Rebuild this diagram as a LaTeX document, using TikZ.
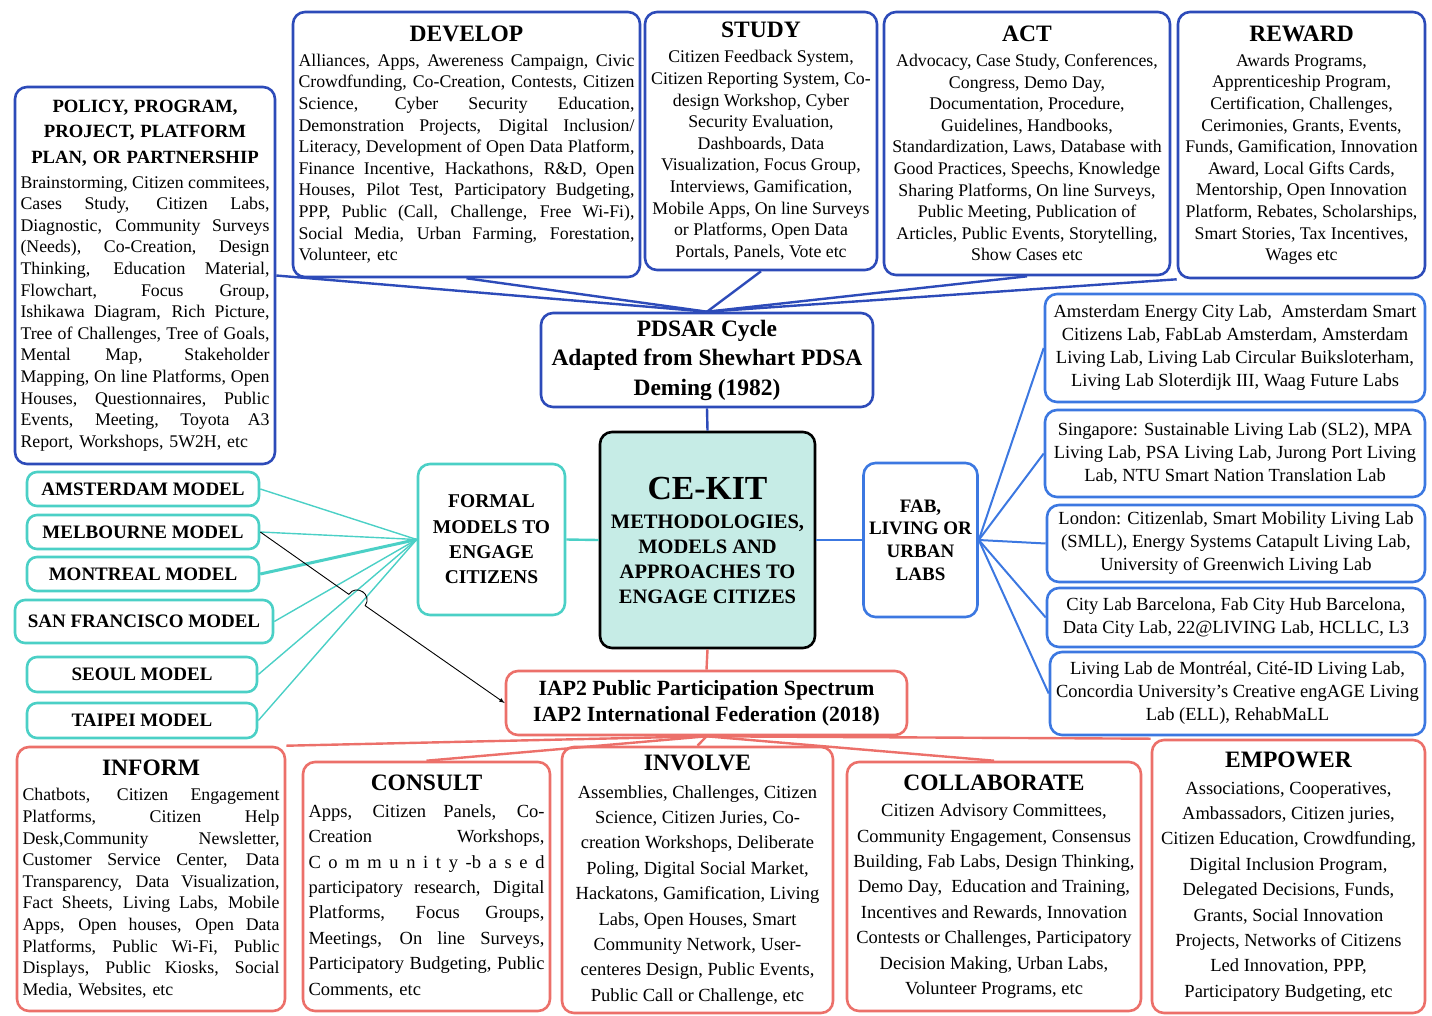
\documentclass[tikz,border=0pt]{standalone}
\usepackage{fontspec}
\setmainfont{Liberation Serif}
\usetikzlibrary{arrows,positioning}

\definecolor{deepblue}{RGB}{45,75,185}
\definecolor{labblue}{RGB}{60,120,225}
\definecolor{cyanline}{RGB}{75,208,198}
\definecolor{iapred}{RGB}{236,112,106}
\definecolor{kitfill}{RGB}{198,236,230}

% title font and justified lines
\newcommand\headfont{\fontsize{23.5}{26}\selectfont\bfseries}
\newlength\jw
\newcommand\jl[1]{\leavevmode\hbox to\jw{\spaceskip=.25em plus 1fil\relax #1}}
\newcommand\jlast[1]{\leavevmode\hbox to\jw{#1\hfil}}

\begin{document}
\begin{tikzpicture}[x=1pt,y=-1pt,
	card/.style={draw,rounded corners=12pt,line width=2.6pt,fill=white,align=center,inner xsep=5.5pt,inner ysep=2pt},
	plan/.style={card,draw=deepblue,font=\fontsize{17.8}{21.6}\selectfont},
	lab/.style={card,draw=labblue,font=\fontsize{18.5}{23}\selectfont},
	model/.style={card,draw=cyanline,rounded corners=10pt,font=\fontsize{19}{22}\selectfont\bfseries},
	level/.style={card,draw=iapred,font=\fontsize{18.5}{25.4}\selectfont},
	link/.style={line width=2.4pt}]
\useasboundingbox (0,0) rectangle (1432,1015);

% PDSAR side
\node[plan,text width=249pt,minimum height=377pt] (policy) at (145,275.5) {\setlength\jw{249pt}{\fontsize{18.7}{25.5}\selectfont\bfseries POLICY, PROGRAM,}\\[3.9pt]{\fontsize{18.7}{25.5}\selectfont\bfseries PROJECT, PLATFORM}\\[3.9pt]{\fontsize{18.7}{25.5}\selectfont\bfseries PLAN, OR PARTNERSHIP}\\[3.4pt]
\jl{Brainstorming, Citizen commitees,}\\ \jl{Cases Study, Citizen Labs,}\\ \jl{Diagnostic, Community Surveys}\\ \jl{(Needs), Co-Creation, Design}\\ \jl{Thinking, Education Material,}\\ \jl{Flowchart, Focus Group,}\\ \jl{Ishikawa Diagram, Rich Picture,}\\ \jl{Tree of Challenges, Tree of Goals,}\\ \jl{Mental Map, Stakeholder}\\ \jl{Mapping, On line Platforms, Open}\\ \jl{Houses, Questionnaires, Public}\\ \jl{Events, Meeting, Toyota A3}\\ \jlast{Report, Workshops, 5W2H, etc}};
\node[plan,text width=336pt,minimum height=265pt] (develop) at (466.5,144.5) {\setlength\jw{336pt}{\headfont DEVELOP}\\[3.6pt]
\jl{Alliances, Apps, Awereness Campaign, Civic}\\ \jl{Crowdfunding, Co-Creation, Contests, Citizen}\\ \jl{Science, Cyber Security Education,}\\ \jl{Demonstration Projects, Digital Inclusion/}\\ \jl{Literacy, Development of Open Data Platform,}\\ \jl{Finance Incentive, Hackathons, R\&D, Open}\\ \jl{Houses, Pilot Test, Participatory Budgeting,}\\ \jl{PPP, Public (Call, Challenge, Free Wi-Fi),}\\ \jl{Social Media, Urban Farming, Forestation,}\\ \jlast{Volunteer, etc}};
\node[plan,minimum width=232pt,minimum height=258pt] (study) at (761,141) {{\headfont STUDY}\\[3.6pt]
Citizen Feedback System,\\ Citizen Reporting System, Co-\\ design Workshop, Cyber\\ Security Evaluation,\\ Dashboards, Data\\ Visualization, Focus Group,\\ Interviews, Gamification,\\ Mobile Apps, On line Surveys\\ or Platforms, Open Data\\ Portals, Panels, Vote etc};
\node[plan,minimum width=286pt,minimum height=263pt] (act) at (1027,143.5) {{\headfont ACT}\\[3.6pt]
Advocacy, Case Study, Conferences,\\ Congress, Demo Day,\\ Documentation, Procedure,\\ Guidelines, Handbooks,\\ Standardization, Laws, Database with\\ Good Practices, Speechs, Knowledge\\ Sharing Platforms, On line Surveys,\\ Public Meeting, Publication of\\ Articles, Public Events, Storytelling,\\ Show Cases etc};
\node[plan,minimum width=247pt,minimum height=266pt] (reward) at (1301.5,145) {{\headfont REWARD}\\[3.6pt]
Awards Programs,\\ Apprenticeship Program,\\ Certification, Challenges,\\ Cerimonies, Grants, Events,\\ Funds, Gamification, Innovation\\ Award, Local Gifts Cards,\\ Mentorship, Open Innovation\\ Platform, Rebates, Scholarships,\\ Smart Stories, Tax Incentives,\\ Wages etc};
\node[card,draw=deepblue,minimum width=332pt,minimum height=94pt,font=\fontsize{23.5}{29.5}\selectfont\bfseries] (pdsar) at (707,360) {PDSAR Cycle\\ Adapted from Shewhart PDSA\\ Deming (1982)};

% centre
\node[card,draw=black,fill=kitfill,minimum width=215pt,minimum height=216pt,font=\fontsize{20.5}{25}\selectfont\bfseries] (kit) at (707.5,540) {{\fontsize{33.7}{36}\selectfont CE-KIT}\\[4pt] METHODOLOGIES,\\ MODELS AND\\ APPROACHES TO\\ ENGAGE CITIZES};
\node[card,draw=cyanline,minimum width=147pt,minimum height=151pt,font=\fontsize{19.5}{25.3}\selectfont\bfseries] (formal) at (491.5,539.5) {FORMAL\\ MODELS TO\\ ENGAGE\\ CITIZENS};
\node[card,draw=labblue,minimum width=113pt,minimum height=154pt,font=\fontsize{19}{22.7}\selectfont\bfseries] (fab) at (920.5,540) {FAB,\\ LIVING OR\\ URBAN\\ LABS};
\node[card,draw=iapred,minimum width=401pt,minimum height=64pt,font=\fontsize{21.7}{26}\selectfont\bfseries] (iap) at (706.5,703) {IAP2 Public Participation Spectrum\\ IAP2 International Federation (2018)};

% models
\node[model,minimum width=232pt,minimum height=34pt] (amsterdam) at (143,489) {AMSTERDAM MODEL};
\node[model,minimum width=232pt,minimum height=34pt] (melbourne) at (143,532) {MELBOURNE MODEL};
\node[model,minimum width=232pt,minimum height=34pt] (montreal) at (143,574) {MONTREAL MODEL};
\node[model,minimum width=258pt,minimum height=43pt] (sanfrancisco) at (144,621.5) {SAN FRANCISCO MODEL};
\node[model,minimum width=230pt,minimum height=35pt] (seoul) at (142,674.5) {SEOUL MODEL};
\node[model,minimum width=230pt,minimum height=35pt] (taipei) at (142,720.5) {TAIPEI MODEL};

% labs
\node[lab,minimum width=380pt,minimum height=108pt] (labams) at (1235,348) {Amsterdam Energy City Lab,\ \ Amsterdam Smart\\ Citizens Lab, FabLab Amsterdam, Amsterdam\\ Living Lab, Living Lab Circular Buiksloterham,\\ Living Lab Sloterdijk III, Waag Future Labs};
\node[lab,minimum width=380pt,minimum height=87pt] (labsg) at (1235,453.5) {Singapore: Sustainable Living Lab (SL2), MPA\\ Living Lab, PSA Living Lab, Jurong Port Living\\ Lab, NTU Smart Nation Translation Lab};
\node[lab,minimum width=378pt,minimum height=77pt] (labldn) at (1236,543.5) {London: Citizenlab, Smart Mobility Living Lab\\ (SMLL), Energy Systems Catapult Living Lab,\\ University of Greenwich Living Lab};
\node[lab,minimum width=378pt,minimum height=59pt] (labbcn) at (1236,617.5) {City Lab Barcelona, Fab City Hub Barcelona,\\ Data City Lab, 22@LIVING Lab, HCLLC, L3};
\node[lab,minimum width=375pt,minimum height=83pt] (labmtl) at (1237.5,693.5) {Living Lab de Montréal, Cité-ID Living Lab,\\ Concordia University’s Creative engAGE Living\\ Lab (ELL), RehabMaLL};

% IAP2 levels
\node[level,font=\fontsize{17.8}{21.6}\selectfont,text width=257pt,minimum height=264pt] (inform) at (151,879) {\setlength\jw{257pt}{\headfont INFORM}\\[3.8pt]
\jl{Chatbots, Citizen Engagement}\\ \jl{Platforms, Citizen Help}\\ \jl{Desk,Community Newsletter,}\\ \jl{Customer Service Center, Data}\\ \jl{Transparency, Data Visualization,}\\ \jl{Fact Sheets, Living Labs, Mobile}\\ \jl{Apps, Open houses, Open Data}\\ \jl{Platforms, Public Wi-Fi, Public}\\ \jl{Displays, Public Kiosks, Social}\\ \jlast{Media, Websites, etc}};
\node[level,text width=236pt,minimum height=249pt] (consult) at (426.5,886.5) {\setlength\jw{236pt}{\headfont CONSULT}\\[1.3pt]
\jl{Apps, Citizen Panels, Co-}\\ \jl{Creation Workshops,}\\ \jl{C o m m u n i t y -b a s e d}\\ \jl{participatory research, Digital}\\ \jl{Platforms, Focus Groups,}\\ \jl{Meetings, On line Surveys,}\\ \jl{Participatory Budgeting, Public}\\ \jlast{Comments, etc}};
\node[level,minimum width=271pt,minimum height=266pt] (involve) at (697.5,880) {{\headfont INVOLVE}\\[2.3pt]
Assemblies, Challenges, Citizen\\ Science, Citizen Juries, Co-\\ creation Workshops, Deliberate\\ Poling, Digital Social Market,\\ Hackatons, Gamification, Living\\ Labs, Open Houses, Smart\\ Community Network, User-\\ centeres Design, Public Events,\\ Public Call or Challenge, etc};
\node[level,minimum width=294pt,minimum height=249pt] (collab) at (994,886.5) {{\headfont COLLABORATE}\\[1.3pt]
Citizen Advisory Committees,\\ Community Engagement, Consensus\\ Building, Fab Labs, Design Thinking,\\ Demo Day,\ \ Education and Training,\\ Incentives and Rewards, Innovation\\ Contests or Challenges, Participatory\\ Decision Making, Urban Labs,\\ Volunteer Programs, etc};
\node[level,minimum width=273pt,minimum height=273pt] (empower) at (1288.5,876.5) {{\headfont EMPOWER}\\[1.3pt]
Associations, Cooperatives,\\ Ambassadors, Citizen juries,\\ Citizen Education, Crowdfunding,\\ Digital Inclusion Program,\\ Delegated Decisions, Funds,\\ Grants, Social Innovation\\ Projects, Networks of Citizens\\ Led Innovation, PPP,\\ Participatory Budgeting, etc};

% connectors
\foreach \n/\a in {policy/east,develop/south,study/south,act/south,reward/south west}
	\draw[link,deepblue] (\n.\a) -- (pdsar.north);
\draw[link,deepblue] (pdsar.south) -- (kit.north);
\draw[link,cyanline] (kit.west) -- (formal.east);
\draw[link,labblue] (kit.east) -- (fab.west);
\draw[link,iapred] (kit.south) -- (iap.north);
\foreach \m in {amsterdam,melbourne,montreal,sanfrancisco,seoul,taipei}
	\draw[cyanline,line width=1.4pt] (\m.east) -- (formal.west);
\draw[cyanline,line width=3pt] (montreal.east) -- (formal.west);
\foreach \l in {labams,labsg,labldn,labbcn,labmtl}
	\draw[labblue,line width=2pt] (fab.east) -- (\l.west);
\foreach \b/\a in {inform/north east,consult/north,involve/north,collab/north,empower/north west}
	\draw[link,iapred] (iap.south) -- (\b.\a);

% arrow with a hop
\coordinate (hopin) at (348.8,594.3);
\coordinate (hopout) at (365.2,605.7);
\draw[-latex,line width=0.9pt] (melbourne.east) -- (hopin) .. controls (356.4,583.4) and (372.8,594.8) .. (hopout) -- (iap.west);
\end{tikzpicture}
\end{document}
